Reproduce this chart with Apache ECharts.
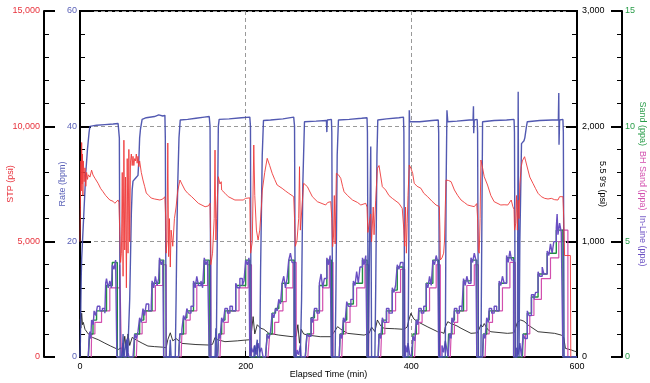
<!DOCTYPE html>
<html><head><meta charset="utf-8">
<script src="https://cdn.jsdelivr.net/npm/echarts@6/dist/echarts.min.js"></script>
<style>html,body{margin:0;padding:0;background:#fff}#c{width:650px;height:383px}</style>
</head><body><div id="c"></div>
<script>
// ---- axis ranges / ticks ----
const xTicks = [0, 200, 400, 600];
const stpTicks = [0, 5000, 10000, 15000];
const rateTicks = [0, 20, 40, 60];
const pressTicks = [0, 1000, 2000, 3000];
const sandTicks = [0, 5, 10, 15];

// ---- series: [minutes, value] ----
const rateData = [[0,0],[0.5,3],[1,9],[1.5,14],[2,17],[3,20],[4,23],[5,26],[6,29],[7,32],[8,34],[9,36],[10,37.5],[11,39],[12,40],[20,40.2],[30,40.3],[40,40.4],[46,40.5],[47,40.3],[47.5,38],[48.5,0],[51,0],[52,4],[53,0],[55,0],[56,3],[57,0],[58,2],[60,10],[62,25],[63,29],[64,30.5],[67,31],[70,31.5],[71,34],[72,38],[73,39.5],[75,41.2],[80,41.5],[90,41.7],[95,42],[100,41.8],[102.5,41.9],[103,38],[104,0],[108,0],[109,3],[110,0],[115,0],[116,10],[117,22],[118,30],[119.5,38],[121,41.1],[130,41.2],[140,41.4],[150,41.6],[156,41.7],[157,40],[158,0],[163,0],[164,5],[164.5,0],[165,0],[166,25],[167,40],[168,41.2],[180,41.3],[195,41.5],[205,41.6],[205.8,40],[206.5,0],[210,0],[210.5,2],[211,0],[213,0],[214,3],[214.5,0],[217,0],[218,15],[220,35],[221.5,41],[230,41.1],[245,41.3],[258,41.6],[259,40],[260,0],[266,0],[267.5,10],[269,30],[271,40.8],[285,40.9],[297.5,41],[298,39],[298.5,41.1],[303.5,41.2],[304,39],[305,0],[308,0],[309,12],[310.5,35],[312,41.1],[325,41.2],[340,41.4],[346.5,41.5],[347,39],[348,0],[350,0],[351,36.5],[352,0],[356,0],[357,12],[358.5,35],[359.5,41.1],[370,41.3],[385,41.5],[390.5,41.6],[391,39],[392,0],[396,0],[397,20],[397.5,42.8],[398,40.8],[410,40.8],[425,41],[432.5,41.1],[433,39],[434,0],[441,0],[442,30],[443,42.8],[444,40.8],[455,40.9],[470,41.1],[474.5,41.1],[475,43.5],[475.3,38.8],[476,41.1],[479.5,41.2],[480,39],[481,0],[484,0],[485,20],[486,40.8],[500,41],[515,41.1],[524,41.2],[524.5,39],[525.5,0],[528,0],[529,46],[530,0],[531,20],[533,37],[536,37.5],[537,38],[539,40],[540,40.8],[555,41],[570,41.1],[577.5,41.1],[578,45.8],[578.3,36.8],[579,41.1],[583,41.2],[583.5,39],[584.5,0],[600,0]];

const stpData = [[0,5000],[0.5,6500],[1,8500],[1.5,7200],[2,9300],[2.5,7500],[3,8800],[3.5,7000],[4,8500],[5,7600],[6,8200],[7,7400],[8,8000],[9,7700],[10,7900],[12,7800],[14,8100],[15.7,7890],[18,7750],[21.8,7530],[25,7300],[27.8,7166],[31,7000],[36,6806],[40,6750],[42,6663],[44,6700],[46,6806],[47,6700],[48,5500],[49,4100],[50,4500],[51,8000],[52,3500],[53,9400],[54,4640],[55,7800],[56,3000],[57,8600],[58,4500],[59,9000],[60,5000],[61,8500],[62,8800],[63,8300],[64,8700],[65,8300],[66,8600],[67,8500],[68,8800],[69,8400],[70,8700],[71,8250],[72,8500],[74,8000],[76,7673],[78,7400],[80,7110],[83,7000],[86,6890],[90,6850],[96.5,6806],[100,6850],[102.5,6950],[103.5,6000],[104,4500],[105,5000],[106,9277],[107,4350],[108,6000],[109,3900],[110,5500],[112,4800],[114,6000],[116,6500],[118,7200],[120.7,7673],[123,7500],[126.7,7240],[130,7100],[134.8,6950],[142.9,6663],[151,6515],[155,6550],[157,6663],[157.5,5500],[158,4000],[160,4500],[162,6000],[163,8970],[164,5070],[165,6000],[166,7000],[167,7816],[169,7500],[170.5,7600],[171,7240],[175,7100],[179,6950],[187,6806],[197,6806],[200,6878],[205,6900],[205.5,5500],[206,4500],[208,5000],[209.8,9190],[211,7000],[213,5500],[215,5070],[217,5500],[219,6500],[220,7200],[223,8000],[226,8613],[229,8300],[232,7963],[235,7700],[238,7456],[244,7312],[248,7200],[252,7095],[258,6950],[259,6000],[260,4800],[262,5070],[264,6000],[265,8250],[266,5500],[268,6500],[270,7530],[272,7600],[274.5,7385],[277,7200],[280.5,6950],[286.6,6733],[296.6,6590],[299,6700],[302.7,6733],[304,6000],[305,4780],[306,5200],[307,7000],[308,4900],[309.5,7963],[312,7900],[314.8,7746],[317,7400],[318.8,7166],[323,7000],[329,6806],[335,6700],[339,6590],[345,6663],[346.5,6500],[347.5,5400],[349,5375],[351,6200],[352,5000],[354,6500],[355,5300],[357,6800],[359,8180],[361,8300],[363,8250],[365,7385],[369,7240],[373,7000],[377,6878],[385,6663],[389,6446],[390.5,6500],[391,5500],[392,4800],[393,6500],[394,4500],[395,5800],[396,7000],[397.5,8323],[399.5,8180],[401.6,7963],[403.5,7530],[407,7400],[411.6,7312],[415,7100],[419.7,6950],[425,6750],[429.8,6590],[433.8,6518],[434.5,5500],[435,4205],[437,4300],[439,4500],[440,5000],[441,6500],[441.9,7673],[445,7650],[448,7600],[452,7240],[456,7000],[460,6806],[464,6700],[468,6590],[472,6550],[476,6518],[479,6650],[480,6000],[481,4600],[482,4500],[483,6000],[484,8540],[486,8200],[488,7816],[492,7456],[496,7000],[500,6733],[508,6590],[512,6600],[516.5,6590],[520.6,6806],[522.6,6518],[524,6400],[524.6,5500],[526,5800],[527,7000],[528,5500],[529,6800],[530,6000],[531,7500],[532.7,8250],[534,8500],[536.7,8683],[538,8500],[540.8,8106],[543,7800],[546.8,7530],[550,7300],[553,7095],[557,6950],[561,6878],[565,6850],[569,6878],[573,6820],[577,6806],[579,6950],[581,7023],[583,6950],[584,6000],[585,4400],[592,4400],[592.5,0]];

const pressData = [[0,330],[1,250],[2,380],[3,280],[4,300],[6,240],[10,200],[15,170],[22,150],[30,120],[37,95],[46,65],[50,80],[52,40],[54,180],[56,60],[58,200],[60,100],[63,170],[68,147],[75,120],[82,95],[90,90],[100,85],[104,80],[106,150],[109,210],[112,140],[116,160],[123,118],[140,108],[155,104],[160,110],[163,170],[166,150],[175,133],[190,140],[200,147],[206,150],[209,350],[211,200],[214,280],[218,250],[222,240],[228,205],[240,190],[256,176],[261,180],[263,280],[265,120],[267,240],[270,200],[275,190],[290,176],[303,176],[308,230],[311,263],[315,240],[323,205],[343,190],[349,205],[352,260],[356,220],[359,321],[363,270],[367,249],[380,245],[391,240],[395,260],[397,320],[399.5,379],[403,330],[407.6,306],[420,260],[431.8,219],[436,215],[439.5,205],[441,260],[444,306],[448,290],[450,306],[455,270],[460,249],[472,205],[480,210],[484,280],[486,260],[488,290],[492,240],[496,219],[516,205],[524,210],[528,300],[532,321],[536,310],[541,277],[553,219],[573,205],[581,190],[584,170],[586,75],[593,61],[597,50],[600,45]];

const sandData = [[10,0],[11.7,1.0],[15.7,1.6],[20,2.0],[32,3.1],[39,4.1],[45,0],[65,0],[66,1.0],[72,1.6],[77,2.0],[87,3.2],[96,4.2],[101,0],[119,0],[120.5,1.0],[125,1.7],[129,2.0],[137,3.2],[150,4.2],[156,0],[166,0],[167.5,1.0],[171,1.6],[175,2.0],[188,3.1],[200,4.2],[205,0],[224,0],[226,1.0],[232,1.9],[236,2.1],[240,2.4],[244,3.2],[252,4.2],[258.5,0],[272,0],[274,1.0],[279,1.7],[283,2.0],[289,3.1],[298,4.2],[303.5,0],[313,0],[314,1.0],[318,1.6],[322,2.3],[330,3.2],[341,4.2],[346.5,0],[360,0],[361,1.0],[365,1.6],[370,2.0],[377,2.9],[383,3.9],[390,0],[401,0],[402,1.0],[406,1.6],[409,2.0],[418,3.2],[426,4.2],[433,0],[444,0],[445,1.0],[449,1.6],[452,2.0],[463,3.3],[472,4.2],[479,0],[486,0],[487,1.0],[491,1.6],[494,2.0],[506,3.2],[515,4.3],[523.5,0],[534,0],[535,1.0],[540,1.9],[545,2.6],[553,3.6],[564,4.5],[575,5.5],[583,0],[600,0]];

const bhSandData = [[13.5,0],[14,1.0],[18,1.5],[26,2.0],[36,3.0],[48,4.0],[50,0],[68,0],[69,1.0],[75,1.5],[80,2.0],[91,3.1],[100,4.0],[104,0],[122,0],[123,1.0],[128,1.6],[133,2.0],[141,3.1],[154,4.0],[158,0],[169,0],[170,1.0],[174,1.5],[179,2.0],[192,3.0],[203,4.0],[207,0],[227,0],[229,1.0],[235,1.5],[240,2.0],[245,2.4],[249,3.0],[257,4.1],[261,0],[275,0],[277,1.0],[282,1.6],[287,2.0],[293,3.0],[301,4.1],[305.5,0],[316,0],[317,1.0],[321,1.5],[326,2.2],[334,3.0],[344,4.0],[348.5,0],[363,0],[364,1.0],[368,1.5],[373,2.0],[381,2.8],[387,3.8],[392,0],[404,0],[405,1.0],[409,1.5],[413,2.0],[422,3.0],[430,4.0],[435,0],[447,0],[448,1.0],[452,1.5],[456,2.0],[467,3.1],[476,4.0],[481,0],[489,0],[490,1.0],[494,1.5],[498,2.0],[510,3.0],[519,4.1],[525.5,0],[537,0],[538,1.0],[543,1.8],[548,2.5],[557,3.4],[568,4.3],[578,5.0],[582,5.5],[589,0],[600,0]];

const inlineData = [[10,0],[11,0.9],[12,1.1],[13,0.8],[14,1.6],[16,1.4],[17,2.0],[19,1.8],[21,2.2],[24,2.0],[27,2.1],[30,1.9],[31,3.2],[32,3.4],[34,3.0],[36,3.3],[38,3.0],[39,4.0],[41,3.8],[43,4.2],[44.5,0],[50,0],[52,0.6],[53,0],[56,0],[57,0.8],[58,0.2],[59,0],[64,0],[66,1.0],[68,0.8],[70,1.1],[72,1.7],[74,1.5],[76,2.1],[78,1.8],[80,2.3],[83,2.0],[86,2.2],[87,3.3],[89,3.0],[91,3.5],[93,3.1],[95,3.4],[96,4.3],[98,4.0],[100,4.2],[101,0],[119,0],[120.5,1.0],[123,1.2],[125,1.8],[127,1.6],[129,2.1],[131,1.9],[134,2.2],[137,3.3],[139,3.0],[141,3.5],[143,3.1],[146,3.3],[148,3.0],[150,4.3],[152,4.0],[154,4.2],[156,0],[166,0],[167.5,1.0],[169,0.8],[171,1.7],[173,1.5],[175,2.1],[178,1.9],[181,2.2],[184,2.0],[188,3.2],[190,3.0],[193,3.4],[196,3.1],[198,3.3],[200,4.2],[202,4.0],[204,4.3],[205,0],[207,0.4],[209,0.2],[211,0.5],[213,0.1],[215,0.6],[217,0.2],[219,0.4],[221,0],[224,0],[226,1.0],[228,0.8],[230,1.1],[232,1.9],[234,1.7],[236,2.1],[238,2.0],[240,2.5],[242,2.3],[244,3.2],[246,3.5],[248,3.0],[250,3.4],[252,4.2],[254,4.5],[256,4.1],[258.5,0],[261,0],[262,0.3],[264,0.1],[266,0.5],[267,0],[272,0],[274,1.0],[276,0.9],[279,1.7],[281,1.5],[283,2.1],[286,1.9],[289,3.2],[291,3.6],[293,3.0],[295,3.4],[298,4.3],[300,4.0],[302,4.4],[303.5,0],[313,0],[314,1.0],[316,0.8],[318,1.7],[320,1.5],[322,2.4],[324,2.2],[327,2.5],[330,3.3],[332,3.1],[334,3.7],[336,3.2],[338,3.9],[341,4.3],[343,4.0],[345,4.4],[346.5,0],[360,0],[361,1.0],[363,0.8],[365,1.7],[367,1.5],[370,2.1],[373,1.9],[377,3.0],[379,2.8],[381,3.1],[383,4.0],[385,3.8],[387,4.1],[390,0],[392,0],[393,0.5],[395,0.2],[396,0.6],[398,0.1],[400,0],[401,0],[402,0.9],[404,0.7],[406,1.6],[408,1.4],[409,2.1],[412,1.9],[415,2.2],[418,3.2],[420,3.0],[422,3.5],[424,3.1],[426,4.2],[428,4.0],[430,4.4],[432,4.1],[433,0],[435,0],[437,0.5],[439,0.2],[441,0.7],[443,0.3],[444.5,0],[445,0],[446,1.0],[448,0.8],[449,1.7],[451,1.5],[452,2.1],[455,1.9],[458,2.2],[461,2.0],[463,3.4],[465,3.1],[467,3.5],[469,3.2],[472,4.3],[474,4.1],[476,4.5],[478,4.2],[479,0],[486,0],[487,1.0],[489,0.8],[491,1.7],[493,1.5],[494,2.1],[497,1.9],[500,2.2],[503,2.0],[506,3.3],[508,3.1],[510,3.5],[512,3.2],[515,4.4],[517,4.1],[519,4.6],[521,4.2],[523.5,0],[525,0],[527,0.4],[529,0.1],[531,0.6],[533,0],[534,0],[535,1.0],[537,0.8],[540,2.0],[542,1.8],[545,2.7],[548,2.5],[550,2.8],[553,3.7],[555,3.5],[558,3.9],[560,3.6],[564,4.6],[566,4.4],[568,4.9],[570,4.5],[572,5.0],[575,5.6],[576,6.2],[577,5.3],[579,5.8],[581,5.4],[583,0],[600,0]];

// ---- styling ----
const FONT = 'Liberation Sans, Arial, sans-serif';
const C = {stp:'#ee3a3a', stpLbl:'#e8323c', rate:'#3f47a8', rateLbl:'#5b62b8', sand:'#1f8f3f', sandLbl:'#2a9d4a', bh:'#d24fae', inl:'#6a4fc2', press:'#222'};
const fmt = v => String(v).replace(/\B(?=(\d{3})+(?!\d))/g, ',');

function yAx(ticks, opts) {
  return Object.assign({
    type: 'value', min: ticks[0], max: ticks[ticks.length-1], interval: ticks[1]-ticks[0],
    axisLine: {show: true, onZero: false, lineStyle: {color: '#000', width: 2}},
    axisTick: {show: true, inside: true, length: 11, lineStyle: {color: '#000', width: 2}},
    minorTick: {show: true, splitNumber: 5, length: 5, lineStyle: {color: '#000', width: 1}},
    splitLine: {show: false},
    nameLocation: 'middle', nameMoveOverlap: false,
  }, opts);
}

const chart = echarts.init(document.getElementById('c'), null, {renderer: 'canvas'});
chart.setOption({
  animation: false,
  textStyle: {fontFamily: FONT},
  grid: {left: 80, right: 73, top: 11, bottom: 26, containLabel: false, outerBoundsMode: 'none',
    show: true, borderColor: '#000', borderWidth: 2},
  xAxis: {
    type: 'value', min: xTicks[0], max: xTicks[xTicks.length-1], interval: xTicks[1]-xTicks[0],
    axisLine: {show: true, lineStyle: {color: '#000', width: 2}},
    axisTick: {show: true, inside: true, length: 6, lineStyle: {color: '#000', width: 1}},
    axisLabel: {color: '#000', fontSize: 9, margin: 5, fontFamily: FONT},
    splitLine: {show: true, lineStyle: {color: '#999', type: [4, 3], width: 1}},
    name: 'Elapsed Time (min)', nameLocation: 'middle', nameGap: 13, nameMoveOverlap: false,
    nameTextStyle: {color: '#000', fontSize: 9, fontFamily: FONT}
  },
  yAxis: [
    yAx(stpTicks, {position: 'left', offset: 36, name: 'STP (psi)', nameGap: 29,
      axisLabel: {color: C.stpLbl, fontSize: 9, margin: 4, formatter: fmt, fontFamily: FONT},
      nameTextStyle: {color: C.stpLbl, fontSize: 9, fontFamily: FONT}}),
    yAx(rateTicks, {position: 'left', offset: 0, name: 'Rate (bpm)', nameGap: 13,
      axisLabel: {color: C.rateLbl, fontSize: 9, margin: 3, fontFamily: FONT},
      splitLine: {show: true, lineStyle: {color: '#999', type: [4, 3], width: 1}},
      nameTextStyle: {color: C.rateLbl, fontSize: 9, fontFamily: FONT}}),
    yAx(pressTicks, {position: 'right', offset: 0, name: "5.5 9's (psi)", nameGap: 21, nameRotate: -90,
      axisLabel: {color: '#000', fontSize: 9, margin: 5, formatter: fmt, fontFamily: FONT},
      nameTextStyle: {color: '#000', fontSize: 9, fontFamily: FONT}}),
    yAx(sandTicks, {position: 'right', offset: 45, nameGap: 16, nameRotate: -90,
      name: '{g|Sand (ppa)}  {m|BH Sand (ppa)}  {p|In-Line (ppa)}',
      axisLabel: {color: C.sandLbl, fontSize: 9, margin: 3, fontFamily: FONT},
      nameTextStyle: {fontSize: 9, fontFamily: FONT, rich: {
        g: {color: C.sandLbl, fontSize: 9, fontFamily: FONT},
        m: {color: C.bh, fontSize: 9, fontFamily: FONT},
        p: {color: C.inl, fontSize: 9, fontFamily: FONT}}}})
  ],
  series: [
    {name: "5.5 9's", type: 'line', yAxisIndex: 2, data: pressData, showSymbol: false, symbol: 'none',
      lineStyle: {color: C.press, width: 0.9}},
    {name: 'BH Sand', type: 'line', yAxisIndex: 3, data: bhSandData, step: 'end', symbol: 'none',
      lineStyle: {color: C.bh, width: 1.2}},
    {name: 'Sand', type: 'line', yAxisIndex: 3, data: sandData, step: 'end', symbol: 'none',
      lineStyle: {color: C.sand, width: 1.4}},
    {name: 'In-Line', type: 'line', yAxisIndex: 3, data: inlineData, step: 'end', symbol: 'none',
      lineStyle: {color: C.inl, width: 1.4}},
    {name: 'Rate', type: 'line', yAxisIndex: 1, data: rateData, symbol: 'none',
      lineStyle: {color: C.rate, width: 1.4, opacity: 0.9}},
    {name: 'STP', type: 'line', yAxisIndex: 0, data: stpData, symbol: 'none',
      lineStyle: {color: C.stp, width: 0.9}}
  ]
});
</script></body></html>
